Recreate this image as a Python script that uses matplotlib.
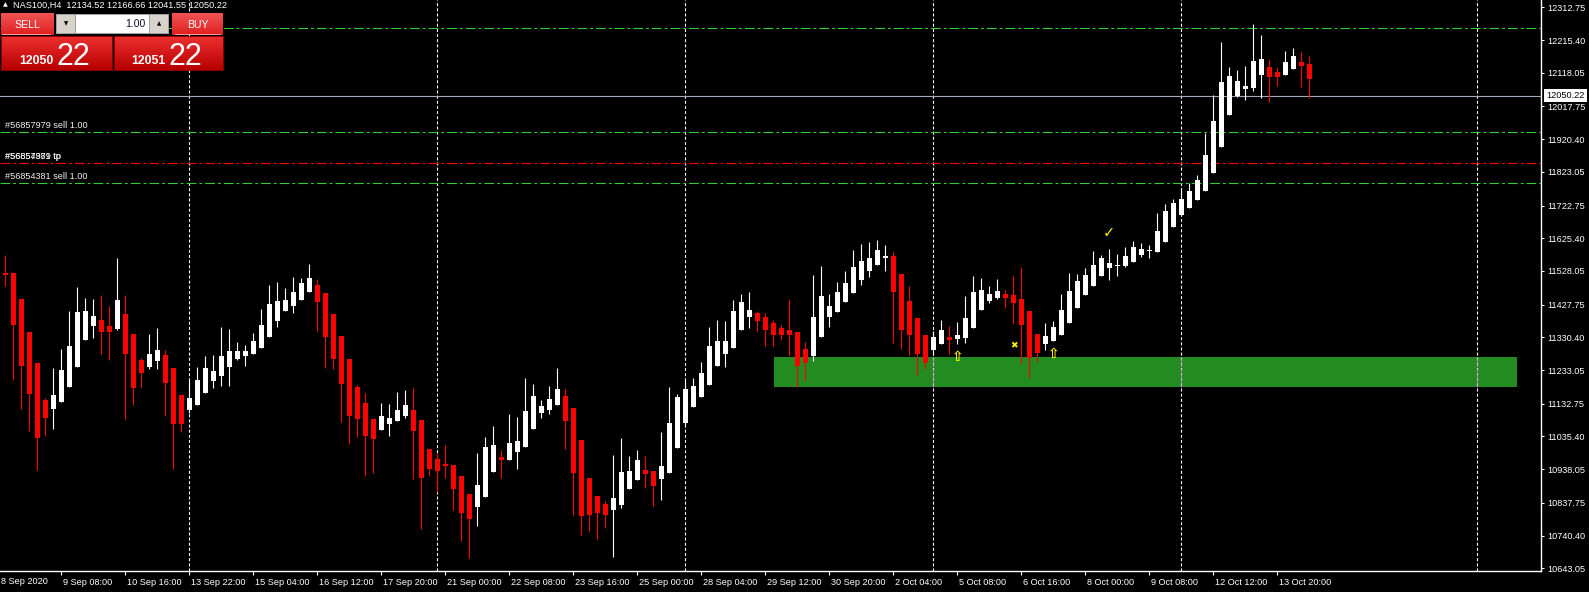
import matplotlib
matplotlib.use("Agg")
import matplotlib.pyplot as plt
import matplotlib.transforms as mtransforms
from matplotlib.colors import to_rgb
from matplotlib.patches import Rectangle
import numpy as np

plt.rcParams['font.family'] = ['Liberation Sans', 'DejaVu Sans']
plt.rcParams['lines.scale_dashes'] = False

# NAS100 H4 candles, bar 0 = 8 Sep 2020 00:00
opens = [11514, 11523, 11522, 11444, 11346, 11254, 11144, 11117, 11138, 11182,
         11242, 11322, 11364, 11382, 11364, 11355, 11400, 11340, 11263, 11242,
         11260, 11278, 11239, 11159, 11114, 11129, 11165, 11200, 11215, 11242,
         11266, 11275, 11281, 11299, 11331, 11379, 11409, 11424, 11441, 11465,
         11486, 11462, 11400, 11334, 11266, 11182, 11135, 11087, 11055, 11072,
         11081, 11096, 11114, 11084, 10998, 10968, 10953, 10950, 10918, 10864,
         10825, 10855, 10930, 10974, 10965, 10989, 11004, 11058, 11105, 11114,
         11129, 11156, 11120, 11025, 10912, 10858, 10834, 10817, 10831, 10879,
         10906, 10936, 10933, 10909, 10927, 11001, 11075, 11123, 11153, 11188,
         11245, 11281, 11299, 11352, 11391, 11403, 11391, 11373, 11358, 11352,
         11346, 11296, 11275, 11331, 11391, 11406, 11436, 11462, 11501, 11528,
         11546, 11567, 11572, 11519, 11439, 11388, 11337, 11293, 11311, 11331,
         11325, 11328, 11359, 11412, 11439, 11447, 11459, 11456, 11444, 11409,
         11340, 11311, 11319, 11337, 11373, 11418, 11456, 11483, 11513, 11537,
         11543, 11543, 11555, 11575, 11587, 11584, 11614, 11659, 11695, 11716,
         11739, 11766, 11820, 11897, 11992, 12049, 12070, 12072, 12111, 12135,
         12120, 12111, 12129, 12151, 12145]
highs = [11540, 11575, 11525, 11444, 11346, 11254, 11150, 11239, 11296, 11409,
         11480, 11447, 11444, 11456, 11424, 11566, 11456, 11340, 11269, 11340,
         11358, 11293, 11239, 11159, 11203, 11242, 11275, 11278, 11361, 11355,
         11316, 11307, 11343, 11415, 11486, 11495, 11477, 11510, 11507, 11549,
         11504, 11462, 11400, 11334, 11266, 11188, 11165, 11087, 11135, 11132,
         11168, 11174, 11180, 11084, 10998, 10986, 11010, 10950, 10918, 10864,
         10986, 11034, 11067, 10995, 11102, 11093, 11209, 11192, 11144, 11186,
         11239, 11177, 11120, 11025, 10912, 10858, 10843, 10980, 11031, 10977,
         10995, 10977, 10933, 11049, 11183, 11162, 11203, 11209, 11257, 11361,
         11382, 11379, 11442, 11460, 11465, 11409, 11403, 11382, 11367, 11445,
         11346, 11317, 11516, 11543, 11460, 11495, 11528, 11590, 11608, 11614,
         11620, 11605, 11584, 11519, 11483, 11388, 11337, 11349, 11382, 11364,
         11376, 11454, 11513, 11508, 11483, 11504, 11471, 11513, 11540, 11409,
         11340, 11373, 11379, 11459, 11521, 11519, 11537, 11587, 11575, 11593,
         11578, 11599, 11617, 11611, 11605, 11700, 11727, 11742, 11775, 11790,
         11814, 11939, 12052, 12210, 12135, 12126, 12138, 12263, 12230, 12159,
         12135, 12183, 12192, 12181, 12169]
lows = [11500, 11484, 11203, 11117, 11053, 10935, 11037, 11057, 11138, 11182,
        11242, 11322, 11328, 11281, 11263, 11352, 11087, 11129, 11180, 11236,
        11236, 11096, 10938, 11049, 11104, 11129, 11165, 11180, 11185, 11185,
        11263, 11245, 11281, 11299, 11331, 11361, 11409, 11403, 11441, 11465,
        11349, 11239, 11236, 11078, 11013, 11034, 10918, 10927, 11055, 11037,
        11081, 11090, 10909, 10760, 10918, 10870, 10912, 10816, 10724, 10674,
        10769, 10855, 10930, 10912, 10965, 10939, 11004, 11058, 11090, 11102,
        11129, 10998, 10802, 10742, 10754, 10730, 10763, 10677, 10822, 10879,
        10906, 10882, 10828, 10846, 10927, 11001, 11069, 11123, 11153, 11188,
        11245, 11242, 11299, 11352, 11358, 11349, 11305, 11305, 11322, 11275,
        11183, 11200, 11260, 11331, 11361, 11406, 11436, 11462, 11486, 11510,
        11546, 11528, 11314, 11296, 11278, 11218, 11236, 11278, 11311, 11281,
        11311, 11314, 11359, 11412, 11433, 11444, 11418, 11370, 11252, 11210,
        11258, 11294, 11319, 11337, 11373, 11418, 11456, 11483, 11513, 11501,
        11513, 11540, 11555, 11569, 11566, 11584, 11614, 11659, 11695, 11716,
        11739, 11766, 11820, 11897, 11992, 12046, 12036, 12064, 12043, 12031,
        12079, 12111, 12129, 12077, 12042]
closes = [11528, 11517, 11367, 11245, 11162, 11031, 11090, 11159, 11233, 11304,
          11406, 11409, 11394, 11346, 11346, 11441, 11281, 11180, 11224, 11281,
          11293, 11194, 11072, 11072, 11150, 11203, 11239, 11230, 11275, 11290,
          11290, 11290, 11319, 11367, 11430, 11438, 11441, 11465, 11492, 11507,
          11435, 11331, 11266, 11192, 11096, 11087, 11037, 11028, 11096, 11090,
          11114, 11129, 11052, 10912, 10939, 10933, 10947, 10879, 10807, 10790,
          10891, 11004, 11010, 10965, 11016, 11022, 11111, 11156, 11126, 11147,
          11177, 11081, 10927, 10799, 10802, 10808, 10802, 10852, 10930, 10933,
          10965, 10924, 10888, 10947, 11075, 11153, 11177, 11186, 11224, 11305,
          11320, 11320, 11409, 11436, 11412, 11379, 11352, 11337, 11337, 11337,
          11245, 11254, 11391, 11453, 11424, 11465, 11492, 11540, 11558, 11567,
          11590, 11572, 11465, 11352, 11337, 11281, 11254, 11331, 11352, 11322,
          11337, 11388, 11465, 11471, 11460, 11468, 11447, 11432, 11367, 11270,
          11285, 11334, 11361, 11412, 11468, 11498, 11516, 11546, 11566, 11552,
          11546, 11572, 11599, 11593, 11590, 11647, 11706, 11730, 11742, 11766,
          11799, 11873, 11975, 12091, 12108, 12093, 12080, 12153, 12159, 12105,
          12105, 12150, 12168, 12139, 12098]

tick_bars = [8, 16, 24, 32, 40, 48, 56, 64, 72, 80, 88, 96, 104, 112, 120,
             128, 136, 144, 152, 160]
tick_labels = ['9 Sep 08:00', '10 Sep 16:00', '13 Sep 22:00', '15 Sep 04:00',
               '16 Sep 12:00', '17 Sep 20:00', '21 Sep 00:00', '22 Sep 08:00',
               '23 Sep 16:00', '25 Sep 00:00', '28 Sep 04:00', '29 Sep 12:00',
               '30 Sep 20:00', '2 Oct 04:00', '5 Oct 08:00', '6 Oct 16:00',
               '8 Oct 00:00', '9 Oct 08:00', '12 Oct 12:00', '13 Oct 20:00']
price_ticks = [12312.75, 12215.40, 12118.05, 12017.75, 11920.40, 11823.05,
               11722.75, 11625.40, 11528.05, 11427.75, 11330.40, 11233.05,
               11132.75, 11035.40, 10938.05, 10837.75, 10740.40, 10643.05]
separator_bars = [24, 55, 86, 117, 148, 185]

bid = 12050.22
sl_tp_prices = [12250.1, 11940.6, 11848.3, 11788.8]
sl_tp_colors = ['#32cd32', '#32cd32', '#ff0000', '#32cd32']

zone_bars = [97.06, 190.0]
zone_prices = [11183.5, 11271.9]

up_arrows_bar = [120, 132]
up_arrows_price = [11272, 11281]

fig = plt.figure(figsize=(15.89, 5.92), dpi=100, facecolor='black')
ax = fig.add_axes([0, 21 / 592, 1541 / 1589, 571 / 592])
ax.set_facecolor('black')

x = np.arange(len(opens))
o = np.array(opens, float)
c = np.array(closes, float)
h = np.array(highs, float)
l = np.array(lows, float)
colors = np.where(c >= o, 'white', '#ff0000')

# support zone
ax.add_patch(Rectangle((zone_bars[0], zone_prices[0]), zone_bars[1] - zone_bars[0],
                       zone_prices[1] - zone_prices[0], fc='#228b22', ec='none', zorder=1))

# weekly separators (drawn pinkish where they cross the zone)
ylo, yhi = 10635.0, 12334.5
ax.vlines(separator_bars, ylo, yhi, colors='white', linestyles=(0, (2.2, 1.5)),
          lw=0.8, zorder=2)
inside = [b for b in separator_bars if zone_bars[0] < b < zone_bars[1]]
ax.vlines(inside, zone_prices[0], zone_prices[1], colors='#dd77dd',
          linestyles=(0, (2.2, 1.5)), lw=0.8, zorder=2.1)

for p, col in zip(sl_tp_prices, sl_tp_colors):
    ax.axhline(p, color=col, lw=0.8, linestyle=(0, (7, 2.2, 2, 2.2)), zorder=2.5)
ax.axhline(bid, color='#a0a8b8', lw=0.8, zorder=2.6)

# candles
ax.vlines(x, l, h, colors=colors, lw=0.8, zorder=3)
ax.bar(x, np.maximum(np.abs(c - o), 3), bottom=np.minimum(o, c), width=0.62,
       color=colors, lw=0, zorder=4)

# order labels
lab_kw = dict(xycoords=('axes fraction', 'data'), textcoords='offset points',
              xytext=(0, 1.5), color='#f0f0f0', fontsize=6.6, va='bottom', ha='left')
ax.annotate('#56857979 sell 1.00', (0.003, sl_tp_prices[1]), **lab_kw)
ax.annotate('#56857979 tp', (0.003, sl_tp_prices[2]), **lab_kw)
ax.annotate('#56854381 tp', (0.003, sl_tp_prices[2]), **lab_kw)
ax.annotate('#56854381 sell 1.00', (0.003, sl_tp_prices[3]), **lab_kw)

# markers
for b, p in zip(up_arrows_bar, up_arrows_price):
    ax.text(b, p, '\u21e7', color='#ffee00', fontsize=10, ha='center', va='center',
            family='DejaVu Sans', fontweight='bold', zorder=6)
ax.text(127, 11306, '\u2716', color='#ffee00', fontsize=6.5, ha='center', va='center',
        family='DejaVu Sans', zorder=6)
ax.text(138.9, 11641, '\u2713', color='#ffee00', fontsize=10.5, ha='center', va='center',
        family='DejaVu Sans', fontweight='bold', zorder=6)

ax.set_xlim(0.3125, 192.94)
ax.set_ylim(ylo, yhi)
for s in ['top', 'left']:
    ax.spines[s].set_visible(False)
for s in ['right', 'bottom']:
    ax.spines[s].set_color('white')
    ax.spines[s].set_linewidth(1.0)

ax.yaxis.tick_right()
ax.set_yticks(price_ticks, labels=['%.2f' % p for p in price_ticks])
ax.set_xticks(tick_bars, labels=tick_labels)
ax.tick_params(axis='y', colors='white', length=2, width=0.8, pad=2.6, labelsize=6.6)
ax.tick_params(axis='x', colors='white', length=3, width=0.8, pad=2.2, labelsize=6.6)
shift = mtransforms.ScaledTranslation(2 / 100, 0, fig.dpi_scale_trans)
for lab in ax.get_xticklabels():
    lab.set_ha('left')
    lab.set_transform(lab.get_transform() + shift)
# first date label sits at the very left edge
ax.text(0, 0, '8 Sep 2020', color='white', fontsize=6.6, ha='left', va='top',
        transform=ax.transAxes
        + mtransforms.ScaledTranslation(1 / 100, -6 / 100, fig.dpi_scale_trans),
        clip_on=False)

# bid price tag on the axis
ax.text(1.0, bid, '12050.22', color='black', fontsize=6.6, ha='left', va='center',
        transform=mtransforms.blended_transform_factory(ax.transAxes, ax.transData)
        + mtransforms.ScaledTranslation(5 / 100, 0, fig.dpi_scale_trans),
        bbox=dict(boxstyle='square,pad=0.25', fc='white', ec='none'), zorder=10)

# header + one-click trading panel, in pixel coordinates
ui = fig.add_axes([0, 0, 1, 1], facecolor='none')
ui.set_zorder(20)


def gradient_box(x0, y0, x1, y1, top, bottom, edge=None):
    t = np.linspace(0, 1, 32)[:, None]
    img = (np.array(to_rgb(top)) * (1 - t) + np.array(to_rgb(bottom)) * t)[:, None, :]
    ui.imshow(img, extent=(x0, x1, y1, y0), aspect='auto', interpolation='bilinear',
              zorder=1)
    if edge:
        ui.add_patch(Rectangle((x0, y0), x1 - x0, y1 - y0, fc='none', ec=edge,
                               lw=0.7, zorder=2))


ui.text(5, 5, '\u25b2', color='white', fontsize=4.5, ha='center', va='center',
        family='DejaVu Sans')
ui.text(13, 5, 'NAS100,H4  12134.52 12166.66 12041.55 12050.22', color='white',
        fontsize=6.6, ha='left', va='center')

gradient_box(1, 14, 54, 35.5, '#f25454', '#e02020')
gradient_box(172, 14, 223, 35.5, '#f25454', '#e02020')
ui.text(27, 24.5, 'SELL', color='white', fontsize=7.6, ha='center', va='center')
ui.text(197.5, 24.5, 'BUY', color='white', fontsize=7.6, ha='center', va='center')
ui.plot([2, 50], [34.3, 34.3], color='#ff9a9a', lw=0.7)
ui.plot([175, 220], [34.3, 34.3], color='#ff9a9a', lw=0.7)

ui.add_patch(Rectangle((56, 14), 113, 20, fc='#a0a0a0', ec='none', zorder=1))
ui.add_patch(Rectangle((57, 15), 18, 18, fc='#d8d4cc', ec='none', zorder=2))
ui.add_patch(Rectangle((150, 15), 18, 18, fc='#d8d4cc', ec='none', zorder=2))
ui.add_patch(Rectangle((76, 15), 73, 18, fc='white', ec='none', zorder=2))
ui.text(66, 24, '\u25bc', color='black', fontsize=4, ha='center', va='center',
        family='DejaVu Sans', zorder=3)
ui.text(159, 24, '\u25b2', color='black', fontsize=4, ha='center', va='center',
        family='DejaVu Sans', zorder=3)
ui.text(145, 24, '1.00', color='#101030', fontsize=7.6, ha='right', va='center', zorder=3)

gradient_box(1, 36, 111.5, 70, '#ec3030', '#b80000', edge='#8a0000')
gradient_box(114, 36, 223, 70, '#ec3030', '#b80000', edge='#8a0000')
ui.text(19, 64.5, '12050', color='white', fontsize=8.8, fontweight='bold',
        ha='left', va='baseline', zorder=3)
ui.text(56, 65, '22', color='white', fontsize=22, ha='left', va='baseline', zorder=3)
ui.text(131, 64.5, '12051', color='white', fontsize=8.8, fontweight='bold',
        ha='left', va='baseline', zorder=3)
ui.text(169, 65, '22', color='white', fontsize=22, ha='left', va='baseline', zorder=3)

ui.set_xlim(0, 1589)
ui.set_ylim(592, 0)
ui.axis('off')

fig.savefig('out.png', dpi=100, facecolor='black')
